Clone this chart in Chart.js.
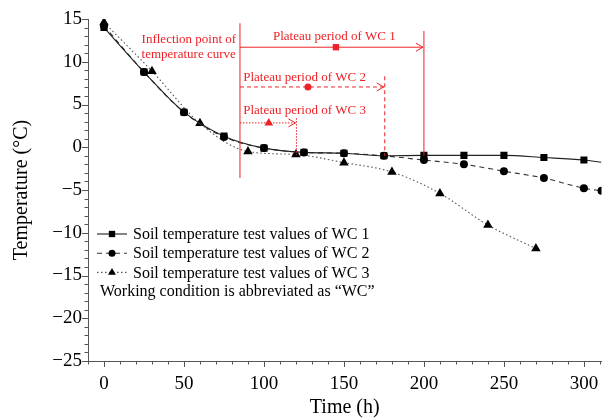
<!DOCTYPE html>
<html>
<head>
<meta charset="utf-8">
<script src="https://cdn.jsdelivr.net/npm/chart.js@4.4.0/dist/chart.umd.min.js"></script>
<style>
  html, body { margin: 0; padding: 0; background: #fff; }
  #wrap { width: 607px; height: 420px; }
</style>
</head>
<body>
<div id="wrap"><canvas id="chart--temp" width="607" height="420"></canvas></div>
<script>
// soil temperature (°C) against time (h), one pair of arrays per working condition
const hours_wc1 = [0, 25, 50, 75, 100, 125, 150, 175, 200, 225, 250, 275, 300, 311];
const temp_wc1 = [14.0, 8.8, 4.1, 1.3, -0.1, -0.6, -0.7, -1.0, -0.95, -0.95, -0.95, -1.2, -1.5, -1.75];
const hours_wc2 = [0, 25, 50, 75, 100, 125, 150, 175, 200, 225, 250, 275, 300, 311];
const temp_wc2 = [14.2, 8.8, 4.1, 1.2, -0.1, -0.6, -0.7, -1.0, -1.5, -2.0, -2.8, -3.6, -4.8, -5.1];
const hours_wc3 = [0, 30, 60, 90, 120, 150, 180, 210, 240, 270];
const temp_wc3 = [14.6, 8.9, 2.8, -0.5, -0.85, -1.8, -2.9, -5.4, -9.1, -11.85];

const series_labels = [
    'Soil temperature test values of WC 1',
    'Soil temperature test values of WC 2',
    'Soil temperature test values of WC 3'
];
const legend_note = 'Working condition is abbreviated as \u201cWC\u201d';

const x_ticks = [0, 50, 100, 150, 200, 250, 300];
const y_ticks = [-25, -20, -15, -10, -5, 0, 5, 10, 15];

// red annotations (in axis units)
const inflection_time = 85;
const inflection_span = [14.5, -3.6];
const inflection_text = ['Inflection point of', 'temperature curve'];
const inflection_text_at = [23.5, 12.6, 10.85];
const plateau_labels = ['Plateau period of WC 1', 'Plateau period of WC 2', 'Plateau period of WC 3'];
const plateau_end = [200, 175.5, 120.3];
const plateau_level = [11.7, 7.05, 2.85];
const plateau_top = [13.6, 8.3, 3.4];
const plateau_bottom = [-1.0, -1.0, -0.9];
const plateau_mark = [145, 127.5, 103];
const plateau_label_x = [144, 87, 87];
const plateau_label_y = [12.9, 8.15, 4.25];

const red = 'rgb(236, 34, 40)';
const serif = "'Liberation Serif', 'Times New Roman', serif";
Chart.defaults.font.family = serif;
Chart.defaults.color = '#000';

function pts(xs, ys) {
    return xs.map((v, i) => ({x: v, y: ys[i]}));
}

const red_styles = [
    {dash: [], point: 'rect', radius: 4.5},
    {dash: [4, 3], point: 'circle', radius: 3.5},
    {dash: [1.5, 1.5], point: 'triangle', radius: 5}
];

const annotate = {
    id: 'annotate',
    afterDatasetsDraw(chart) {
        const {ctx, scales: {x, y}} = chart;
        ctx.save();
        ctx.strokeStyle = red;
        ctx.fillStyle = red;
        ctx.lineWidth = 1;
        const xi = x.getPixelForValue(inflection_time);
        ctx.beginPath();
        ctx.moveTo(xi, y.getPixelForValue(inflection_span[0]));
        ctx.lineTo(xi, y.getPixelForValue(inflection_span[1]));
        ctx.stroke();

        ctx.font = '13px ' + serif;
        ctx.textBaseline = 'middle';
        ctx.textAlign = 'left';
        ctx.fillText(inflection_text[0], x.getPixelForValue(inflection_text_at[0]), y.getPixelForValue(inflection_text_at[1]));
        ctx.fillText(inflection_text[1], x.getPixelForValue(inflection_text_at[0]), y.getPixelForValue(inflection_text_at[2]));

        plateau_labels.forEach((lab, i) => {
            const st = red_styles[i];
            const xe = x.getPixelForValue(plateau_end[i]);
            const yl = y.getPixelForValue(plateau_level[i]);
            ctx.setLineDash(st.dash);
            ctx.beginPath();
            ctx.moveTo(xi, yl);
            ctx.lineTo(xe - 1, yl);
            ctx.moveTo(xe, y.getPixelForValue(plateau_top[i]));
            ctx.lineTo(xe, y.getPixelForValue(plateau_bottom[i]));
            ctx.stroke();
            ctx.setLineDash([]);
            // open arrow head
            ctx.beginPath();
            ctx.moveTo(xe - 8, yl - 4);
            ctx.lineTo(xe - 1, yl);
            ctx.lineTo(xe - 8, yl + 4);
            ctx.stroke();
            Chart.helpers.drawPoint(ctx, {pointStyle: st.point, radius: st.radius, rotation: 0, borderWidth: 0},
                x.getPixelForValue(plateau_mark[i]), yl);
            ctx.textAlign = i === 0 ? 'center' : 'left';
            ctx.fillText(lab, x.getPixelForValue(plateau_label_x[i]), y.getPixelForValue(plateau_label_y[i]));
        });
        ctx.restore();
    }
};

const axisTicks = {
    id: 'axisTicks',
    afterDraw(chart) {
        const {ctx, scales: {x, y}, chartArea} = chart;
        ctx.save();
        ctx.strokeStyle = '#555';
        ctx.lineWidth = 1;
        ctx.beginPath();
        for (let v = -10; v <= 310; v += 10) {
            const px = Math.round(x.getPixelForValue(v)) + 0.5;
            const len = v % 50 === 0 ? 6 : 3.5;
            ctx.moveTo(px, chartArea.bottom);
            ctx.lineTo(px, chartArea.bottom + len);
        }
        for (let v = -25; v <= 15; v += 1) {
            const py = Math.round(y.getPixelForValue(v)) + 0.5;
            const len = v % 5 === 0 ? 6 : 3.5;
            ctx.moveTo(chartArea.left, py);
            ctx.lineTo(chartArea.left - len, py);
        }
        ctx.stroke();
        ctx.restore();
    }
};

const legendBox = {
    id: 'legendBox',
    afterDraw(chart) {
        const {ctx, chartArea} = chart;
        const x0 = chartArea.left + 9;
        const y0 = chartArea.top + 215;
        const row = 19.2;
        ctx.save();
        ctx.font = '16px ' + serif;
        ctx.textBaseline = 'middle';
        ctx.textAlign = 'left';
        chart.data.datasets.forEach((ds, i) => {
            const yy = y0 + i * row;
            ctx.strokeStyle = ds.borderColor;
            ctx.lineWidth = ds.borderWidth;
            ctx.setLineDash(ds.borderDash || []);
            ctx.beginPath();
            ctx.moveTo(x0, yy);
            ctx.lineTo(x0 + 30, yy);
            ctx.stroke();
            ctx.setLineDash([]);
            ctx.fillStyle = '#000';
            Chart.helpers.drawPoint(ctx, {pointStyle: ds.pointStyle, radius: ds.legendRadius, rotation: 0, borderWidth: 0},
                x0 + 15, yy);
            ctx.fillText(ds.label, x0 + 36, yy + 1);
        });
        ctx.fillText(legend_note, x0 + 3, y0 + 3 * row);
        ctx.restore();
    }
};

const minus = v => (v < 0 ? '\u2212' + Math.abs(v) : String(v));

const config_temp = {
    type: 'line',
    data: {
        datasets: [{
            label: series_labels[0],
            data: pts(hours_wc1, temp_wc1),
            borderColor: '#222',
            backgroundColor: '#000',
            borderWidth: 1.1,
            pointStyle: 'rect',
            pointRadius: c => (c.raw && c.raw.x > 300 ? 0 : 5),
            legendRadius: 4.5,
            pointBorderWidth: 0,
            cubicInterpolationMode: 'monotone'
        }, {
            label: series_labels[1],
            data: pts(hours_wc2, temp_wc2),
            borderColor: '#333',
            backgroundColor: '#000',
            borderWidth: 1.1,
            borderDash: [5, 4],
            pointStyle: 'circle',
            pointRadius: 4,
            legendRadius: 3.5,
            pointBorderWidth: 0,
            cubicInterpolationMode: 'monotone'
        }, {
            label: series_labels[2],
            data: pts(hours_wc3, temp_wc3),
            borderColor: '#555',
            backgroundColor: '#000',
            borderWidth: 1.1,
            borderDash: [1.5, 2.5],
            pointStyle: 'triangle',
            pointRadius: 5.5,
            legendRadius: 4.5,
            pointBorderWidth: 0,
            cubicInterpolationMode: 'monotone'
        }]
    },
    options: {
        responsive: false,
        animation: false,
        layout: {padding: {left: 0, right: 5, top: 19, bottom: 0}},
        plugins: {legend: {display: false}, tooltip: {enabled: false}},
        scales: {
            x: {
                type: 'linear',
                min: -10,
                max: 311,
                afterBuildTicks: s => { s.ticks = x_ticks.map(v => ({value: v})); },
                afterFit: s => { s.height = 59; s.paddingLeft = 0; s.paddingRight = 0; },
                grid: {display: false, drawTicks: false},
                border: {display: true, color: '#555', width: 1},
                ticks: {font: {size: 19}, padding: 12, maxRotation: 0},
                title: {display: true, text: 'Time (h)', font: {size: 20}, padding: {top: 0, bottom: 0}}
            },
            y: {
                type: 'linear',
                min: -25,
                max: 15,
                afterBuildTicks: s => { s.ticks = y_ticks.map(v => ({value: v})); },
                afterFit: s => { s.width = 88; s.paddingTop = 0; s.paddingBottom = 0; },
                grid: {display: false, drawTicks: false},
                border: {display: true, color: '#555', width: 1},
                ticks: {font: {size: 19}, padding: 6, callback: minus},
                title: {display: true, text: 'Temperature (\u00b0C)', font: {size: 20}, padding: {top: 10, bottom: 0}}
            }
        }
    },
    plugins: [annotate, axisTicks, legendBox]
};

var chart_temp = new Chart(document.getElementById('chart--temp'), config_temp);
</script>
</body>
</html>
